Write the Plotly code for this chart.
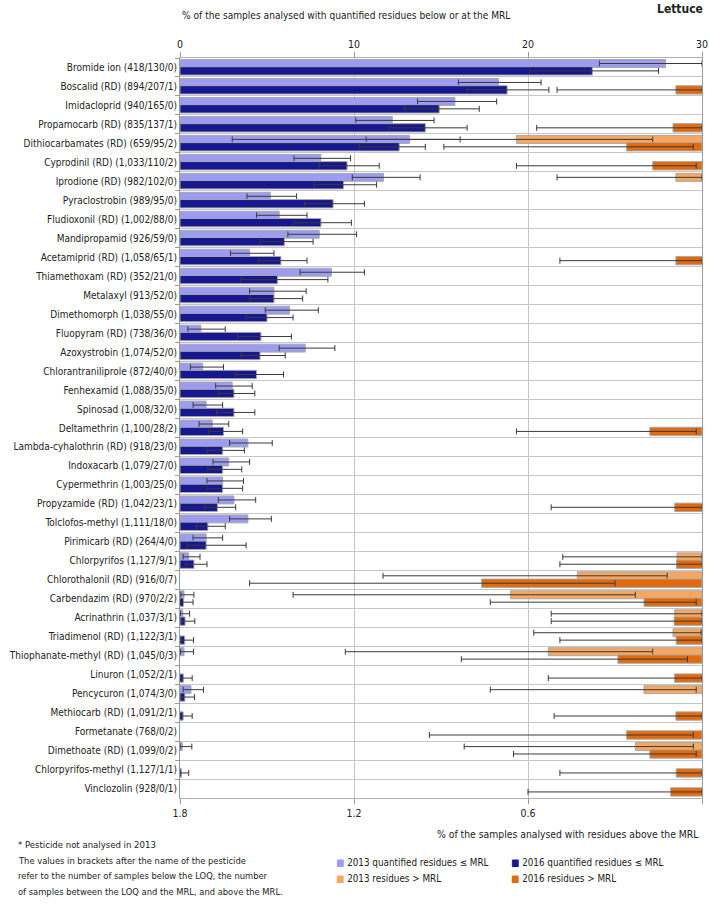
import plotly.graph_objects as go

# pesticides, ordered top to bottom
pesticides = [
    "Bromide ion (418/130/0)", "Boscalid (RD) (894/207/1)", "Imidacloprid (940/165/0)",
    "Propamocarb (RD) (835/137/1)", "Dithiocarbamates (RD) (659/95/2)", "Cyprodinil (RD) (1,033/110/2)",
    "Iprodione (RD) (982/102/0)", "Pyraclostrobin (989/95/0)", "Fludioxonil (RD) (1,002/88/0)",
    "Mandipropamid (926/59/0)", "Acetamiprid (RD) (1,058/65/1)", "Thiamethoxam (RD) (352/21/0)",
    "Metalaxyl (913/52/0)", "Dimethomorph (1,038/55/0)", "Fluopyram (RD) (738/36/0)",
    "Azoxystrobin (1,074/52/0)", "Chlorantraniliprole (872/40/0)", "Fenhexamid (1,088/35/0)",
    "Spinosad (1,008/32/0)", "Deltamethrin (1,100/28/2)", "Lambda-cyhalothrin (RD) (918/23/0)",
    "Indoxacarb (1,079/27/0)", "Cypermethrin (1,003/25/0)", "Propyzamide (RD) (1,042/23/1)",
    "Tolclofos-methyl (1,111/18/0)", "Pirimicarb (RD) (264/4/0)", "Chlorpyrifos (1,127/9/1)",
    "Chlorothalonil (RD) (916/0/7)", "Carbendazim (RD) (970/2/2)", "Acrinathrin (1,037/3/1)",
    "Triadimenol (RD) (1,122/3/1)", "Thiophanate-methyl (RD) (1,045/0/3)", "Linuron (1,052/2/1)",
    "Pencycuron (1,074/3/0)", "Methiocarb (RD) (1,091/2/1)", "Formetanate (768/0/2)",
    "Dimethoate (RD) (1,099/0/2)", "Chlorpyrifos-methyl (1,127/1/1)", "Vinclozolin (928/0/1)",
]

# % quantified residues <= MRL, 2013 (value, lower CI, upper CI)
q2013 = [27.9, 18.3, 15.8, 12.2, 13.2, 8.1, 11.7, 5.2, 5.7, 8.0, 4.0, 8.7, 5.4, 6.3, 1.2, 7.2, 1.3,
         3.0, 1.5, 1.85, 3.9, 2.8, 2.45, 3.1, 3.9, 1.5, 0.5, None, 0.23, 0.16, None, 0.23, None,
         0.63, None, None, 0.13, None, None]
q2013_lo = [24.1, 16.0, 13.65, 10.1, 10.7, 6.55, 9.9, 3.85, 4.4, 6.2, 2.9, 6.9, 4.0, 4.9, 0.45, 5.7,
            0.6, 2.05, 0.75, 1.1, 2.85, 1.9, 1.55, 2.2, 2.85, 0.75, 0.18, None, 0.05, 0.02, None,
            0.02, None, 0.18, None, None, 0.0, None, None]
q2013_hi = [30.0, 20.75, 18.2, 14.6, 16.1, 9.8, 13.8, 6.7, 7.3, 10.15, 5.4, 10.6, 7.25, 7.95, 2.6,
            8.9, 2.5, 4.15, 2.45, 2.8, 5.3, 4.0, 3.65, 4.35, 5.25, 2.45, 1.15, None, 0.8, 0.55,
            None, 0.78, None, 1.35, None, None, 0.68, None, None]

# % quantified residues <= MRL, 2016
q2016 = [23.7, 18.8, 14.9, 14.1, 12.6, 9.6, 9.4, 8.8, 8.1, 6.0, 5.8, 5.6, 5.4, 5.0, 4.65, 4.6, 4.4,
         3.1, 3.1, 2.5, 2.45, 2.45, 2.45, 2.15, 1.6, 1.5, 0.8, None, 0.2, 0.29, 0.27, None, 0.19,
         0.28, 0.18, None, None, 0.09, None]
q2016_lo = [20.1, 16.5, 12.9, 12.0, 10.3, 8.0, 7.7, 7.15, 6.55, 4.6, 4.5, 3.5, 4.0, 3.8, 3.3, 3.5,
            3.2, 2.2, 2.1, 1.65, 1.55, 1.6, 1.55, 1.4, 0.95, 0.4, 0.35, None, 0.03, 0.08, 0.06,
            None, 0.03, 0.06, 0.03, None, None, 0.0, None]
q2016_hi = [27.5, 21.2, 17.2, 16.5, 14.1, 11.45, 11.3, 10.6, 9.85, 7.65, 7.3, 8.5, 7.05, 6.5, 6.4,
            6.05, 5.95, 4.3, 4.3, 3.6, 3.7, 3.55, 3.6, 3.2, 2.6, 3.8, 1.55, None, 0.75, 0.85, 0.78,
            None, 0.7, 0.83, 0.7, None, None, 0.5, None]

# % residues > MRL, 2013
e2013 = [None, None, None, None, 0.64, None, 0.09, None, None, None, None, None, None, None, None,
         None, None, None, None, None, None, None, None, None, None, None, 0.086, 0.43, 0.66,
         0.094, 0.10, 0.53, None, 0.20, None, None, 0.23, None, None]
e2013_lo = [None, None, None, None, 0.17, None, 0.0, None, None, None, None, None, None, None, None,
            None, None, None, None, None, None, None, None, None, None, None, 0.0, 0.12, 0.23,
            0.0, 0.003, 0.17, None, 0.02, None, None, 0.03, None, None]
e2013_hi = [None, None, None, None, 1.62, None, 0.5, None, None, None, None, None, None, None, None,
            None, None, None, None, None, None, None, None, None, None, None, 0.48, 1.1, 1.41,
            0.52, 0.58, 1.23, None, 0.73, None, None, 0.82, None, None]

# % residues > MRL, 2016
e2016 = [None, 0.09, None, 0.10, 0.26, 0.17, None, None, None, None, 0.09, None, None, None, None,
         None, None, None, None, 0.18, None, None, None, 0.094, None, None, 0.088, 0.76, 0.20,
         0.096, 0.089, 0.29, 0.095, None, 0.09, 0.26, 0.18, 0.089, 0.108]
e2016_lo = [None, 0.0, None, 0.0, 0.03, 0.02, None, None, None, None, 0.0, None, None, None, None,
            None, None, None, None, 0.02, None, None, None, 0.0, None, None, 0.0, 0.30, 0.02,
            0.0, 0.0, 0.05, 0.0, None, 0.0, 0.03, 0.02, 0.0, 0.0]
e2016_hi = [None, 0.5, None, 0.57, 0.89, 0.64, None, None, None, None, 0.49, None, None, None, None,
            None, None, None, None, 0.64, None, None, None, 0.52, None, None, 0.49, 1.56, 0.73,
            0.52, 0.49, 0.83, 0.53, None, 0.51, 0.94, 0.65, 0.49, 0.6]

note_lines = [
    "The values in brackets after the name of the pesticide",
    "refer to the number of samples below the LOQ, the number",
    "of samples between the LOQ and the MRL, and above the MRL.",
]

FONT = "DejaVu Sans Condensed, Liberation Sans, Arial, sans-serif"
W, H = 709, 907
L, R, T, B = 180, 7, 58, 109
PW, PH = W - L - R, H - T - B


def px(xp):
    return (xp - L) / PW


def py(yp):
    return (H - B - yp) / PH


def err(vals, lo, hi):
    plus = [(h - v) if v is not None else 0 for v, h in zip(vals, hi)]
    minus = [(v - l) if v is not None else 0 for v, l in zip(vals, lo)]
    return dict(type="data", symmetric=False, array=plus, arrayminus=minus,
                color="#3a3a3a", thickness=1, width=3)


# name, values, ci, colour, x axis, bar offset/width within the row, legend slot (px)
series = [
    ("2013 quantified residues ≤ MRL", q2013, q2013_lo, q2013_hi, "#9c9cf0", "x", -0.42, 0.42, (334, 862)),
    ("2016 quantified residues ≤ MRL", q2016, q2016_lo, q2016_hi, "#17178f", "x", -0.04, 0.44, (509, 862)),
    ("2013 residues > MRL", e2013, e2013_lo, e2013_hi, "#f7a760", "x2", -0.42, 0.42, (334, 878)),
    ("2016 residues > MRL", e2016, e2016_lo, e2016_hi, "#e2690c", "x2", -0.04, 0.44, (509, 878)),
]

fig = go.Figure()
for name, vals, lo, hi, color, xa, off, wid, (lx, ly) in series:
    fig.add_trace(go.Bar(
        y=pesticides, x=vals, orientation="h", name=name, xaxis=xa, yaxis="y",
        offset=off, width=wid,
        marker=dict(color=color, line=dict(color="#a8a8a8", width=1)),
        error_x=err(vals, lo, hi), showlegend=False,
    ))
    fig.add_annotation(text=f"<span style='color:{color}'>■</span> {name}",
                       x=px(lx), y=py(ly), xref="paper", yref="paper", xanchor="left",
                       yanchor="middle", showarrow=False, font=dict(size=9.8))

fig.update_layout(
    width=W, height=H,
    margin=dict(l=L, r=R, t=T, b=B),
    paper_bgcolor="white", plot_bgcolor="white",
    font=dict(family=FONT, size=11, color="#222222"),
    barmode="overlay",
    xaxis=dict(side="top", range=[0, 30], tickvals=[0, 10, 20, 30],
               showgrid=True, gridcolor="#c6c6c6", gridwidth=1,
               ticks="outside", ticklen=5, tickcolor="#999999",
               showline=True, linecolor="#b0b0b0", mirror=True, zeroline=False,
               tickfont=dict(size=10.5), automargin=False),
    xaxis2=dict(overlaying="x", side="bottom", range=[1.8, 0], tickvals=[1.8, 1.2, 0.6, 0.0],
                ticktext=["1.8", "1.2", "0.6", "0.0"],
                showgrid=False, ticks="outside", ticklen=5, tickcolor="#999999",
                zeroline=False, tickfont=dict(size=10.5), automargin=False),
    yaxis=dict(autorange="reversed", type="category", tickson="boundaries",
               showgrid=True, gridcolor="#c6c6c6", ticks="outside", ticklen=4,
               tickcolor="#999999", showline=True, linecolor="#999999", mirror=True,
               tickfont=dict(size=10), automargin=False),
)

fig.add_annotation(text="<b>Lettuce</b>", x=px(705), y=py(9), xref="paper", yref="paper",
                   xanchor="right", yanchor="middle", showarrow=False, font=dict(size=12))
fig.add_annotation(text="% of the samples analysed with quantified residues below or at the MRL",
                   x=px(180), y=py(16), xref="paper", yref="paper", xanchor="left",
                   yanchor="middle", showarrow=False, font=dict(size=10.1))
fig.add_annotation(text="% of the samples analysed with residues above the MRL",
                   x=px(701), y=py(834), xref="paper", yref="paper", xanchor="right",
                   yanchor="middle", showarrow=False, font=dict(size=10.3))
fig.add_annotation(text="* Pesticide not analysed in 2013",
                   x=px(16), y=py(844), xref="paper", yref="paper", xanchor="left",
                   yanchor="middle", showarrow=False, font=dict(size=9.5))
for i, line in enumerate(note_lines):
    fig.add_annotation(text=line, x=px(16), y=py(860 + 15.5 * i), xref="paper", yref="paper",
                       xanchor="left", yanchor="middle", showarrow=False, font=dict(size=9.3))

fig.write_html("out.html", config={"displayModeBar": False},
               post_script="document.body.style.margin='0px';")
